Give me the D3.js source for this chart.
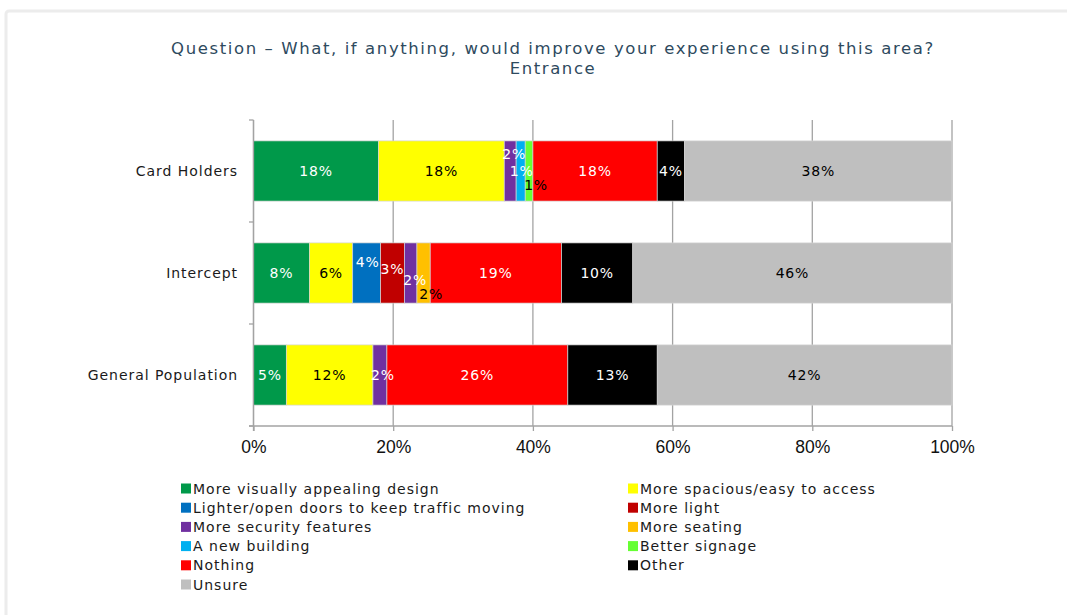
<!DOCTYPE html>
<html>
<head>
<meta charset="utf-8">
<script src="https://cdn.jsdelivr.net/npm/d3@7/dist/d3.min.js"></script>
<style>
  html, body { margin: 0; padding: 0; background: #ffffff; }
  svg { display: block; }
</style>
</head>
<body>
<svg id="chart" width="1067" height="615"></svg>
<script>
// Survey groups (top to bottom)
const categories = ["Card Holders", "Intercept", "General Population"];

// Answer options, in stacking order
const seriesNames = [
  "More visually appealing design",
  "More spacious/easy to access",
  "Lighter/open doors to keep traffic moving",
  "More light",
  "More security features",
  "More seating",
  "A new building",
  "Better signage",
  "Nothing",
  "Other",
  "Unsure"
];

const seriesColors = [
  "#00994A", "#FFFF00", "#0070C0", "#C00000", "#7030A0", "#FFC000",
  "#00B0F0", "#66FF33", "#FF0000", "#000000", "#BFBFBF"
];

// Share of respondents (fraction) per option, one value per group
const visualDesign  = [0.179, 0.080, 0.047];
const moreSpacious  = [0.180, 0.062, 0.124];
const lighterDoors  = [0.000, 0.040, 0.000];
const moreLight     = [0.000, 0.034, 0.000];
const moreSecurity  = [0.017, 0.018, 0.020];
const moreSeating   = [0.000, 0.019, 0.000];
const newBuilding   = [0.013, 0.000, 0.000];
const betterSignage = [0.011, 0.000, 0.000];
const nothing       = [0.178, 0.188, 0.259];
const other         = [0.039, 0.102, 0.128];
const unsure        = [0.383, 0.457, 0.422];

const seriesValues = [
  visualDesign, moreSpacious, lighterDoors, moreLight, moreSecurity,
  moreSeating, newBuilding, betterSignage, nothing, other, unsure
];

const axisTicks = [0, 0.2, 0.4, 0.6, 0.8, 1.0];

// Label text colour per option (dark text on light fills)
const labelInk = ["#ffffff", "#000000", "#ffffff", "#ffffff", "#ffffff", "#000000",
                  "#ffffff", "#000000", "#ffffff", "#ffffff", "#000000"];

// Hand-placed offsets for crowded labels: "option|group" -> [dx, dy]
const labelShift = {
  "4|0": [4, -17], "6|0": [1, 0], "7|0": [7, 14],
  "2|1": [1, -11.5], "3|1": [0, -4], "4|1": [4.5, 7], "5|1": [7.5, 21],
  "4|2": [3, 0]
};

const svg = d3.select("#chart");

// Outer frame
svg.append("rect")
  .attr("x", 6).attr("y", 11).attr("width", 1080).attr("height", 640)
  .attr("rx", 3)
  .attr("fill", "#ffffff").attr("stroke", "#ececec").attr("stroke-width", 3);

// Title
const title = svg.append("text")
  .attr("text-anchor", "middle")
  .attr("font-family", "DejaVu Sans, sans-serif")
  .attr("font-size", 16.5)
  .attr("letter-spacing", 1.6)
  .attr("fill", "#2E4A5E");
title.append("tspan").attr("x", 553).attr("y", 54)
  .text("Question – What, if anything, would improve your experience using this area?");
title.append("tspan").attr("x", 553).attr("y", 74).text("Entrance");

const x = d3.scaleLinear().domain([0, 1]).range([253.5, 952]);
const y = d3.scaleBand().domain(categories).range([120, 426])
  .paddingInner(0.41).paddingOuter(0.205);

// Vertical gridlines
svg.append("g").selectAll("line").data(axisTicks).join("line")
  .attr("x1", d => x(d)).attr("x2", d => x(d))
  .attr("y1", 120).attr("y2", 426)
  .attr("stroke", "#a3a3a3").attr("stroke-width", 1.3);

// Stacked data
const table = categories.map((c, i) => {
  const row = { category: c };
  seriesNames.forEach((s, j) => { row[s] = seriesValues[j][i]; });
  return row;
});
const stacked = d3.stack().keys(seriesNames)(table);

const fmt = d3.format(".0%");

const layers = svg.append("g").selectAll("g").data(stacked).join("g")
  .attr("fill", (d, i) => seriesColors[i]);

layers.selectAll("rect")
  .data(d => d.filter(p => p[1] - p[0] > 0))
  .join("rect")
  .attr("x", p => x(p[0]))
  .attr("width", p => x(p[1]) - x(p[0]))
  .attr("y", p => y(p.data.category))
  .attr("height", y.bandwidth())
  .attr("stroke", "#d4d4d4").attr("stroke-width", 0.7);

// Segment value labels
const labels = svg.append("g")
  .attr("font-family", "DejaVu Sans, sans-serif")
  .attr("font-size", 14)
  .attr("letter-spacing", 0.8)
  .attr("text-anchor", "middle");

stacked.forEach((layer, si) => {
  layer.forEach((p, ci) => {
    const v = p[1] - p[0];
    if (v <= 0) return;
    const shift = labelShift[si + "|" + ci] || [0, 0];
    labels.append("text")
      .attr("x", (x(p[0]) + x(p[1])) / 2 + shift[0])
      .attr("y", y(p.data.category) + y.bandwidth() / 2 + shift[1])
      .attr("dy", "0.36em")
      .attr("fill", labelInk[si])
      .text(fmt(v));
  });
});

// Category axis: line, ticks between groups, labels
const yAxisG = svg.append("g");
yAxisG.append("line")
  .attr("x1", x(0)).attr("x2", x(0)).attr("y1", 120).attr("y2", 431)
  .attr("stroke", "#a3a3a3").attr("stroke-width", 1.3);
const bounds = [120, 120 + y.step(), 120 + 2 * y.step(), 426];
yAxisG.selectAll("line.tick").data(bounds).join("line")
  .attr("class", "tick")
  .attr("x1", x(0) - 4.5).attr("x2", x(0))
  .attr("y1", d => d).attr("y2", d => d)
  .attr("stroke", "#a3a3a3").attr("stroke-width", 1.3);
yAxisG.selectAll("text").data(categories).join("text")
  .attr("x", 238)
  .attr("y", d => y(d) + y.bandwidth() / 2)
  .attr("dy", "0.36em")
  .attr("text-anchor", "end")
  .attr("font-family", "DejaVu Sans, sans-serif")
  .attr("font-size", 14)
  .attr("letter-spacing", 0.95)
  .attr("fill", "#1a1a1a")
  .text(d => d);

// Value axis
const xAxis = d3.axisBottom(x).tickValues(axisTicks).tickFormat(d3.format(".0%"))
  .tickSize(5).tickPadding(10);
const xAxisG = svg.append("g").attr("transform", "translate(0,426)").call(xAxis);
xAxisG.select(".domain").attr("stroke", "#a3a3a3").attr("stroke-width", 1.3)
  .attr("d", `M${x(0) - 4.5},0H${x(1)}`);
xAxisG.selectAll(".tick line").attr("stroke", "#a3a3a3").attr("stroke-width", 1.3);
xAxisG.selectAll(".tick text")
  .attr("font-family", "Liberation Sans, Arial, sans-serif")
  .attr("font-size", 17.5)
  .attr("fill", "#111");

// Legend: two columns, options filled row by row
const legend = svg.append("g")
  .attr("font-family", "DejaVu Sans, sans-serif")
  .attr("font-size", 14)
  .attr("letter-spacing", 1.0)
  .attr("fill", "#1a1a1a");
seriesNames.forEach((name, i) => {
  const col = i % 2, row = Math.floor(i / 2);
  const lx = col === 0 ? 181 : 628;
  const ly = 488.5 + row * 19.2;
  legend.append("rect")
    .attr("x", lx).attr("y", ly - 5).attr("width", 10).attr("height", 10)
    .attr("fill", seriesColors[i]);
  legend.append("text")
    .attr("x", lx + 12).attr("y", ly).attr("dy", "0.36em")
    .text(name);
});
</script>
</body>
</html>
